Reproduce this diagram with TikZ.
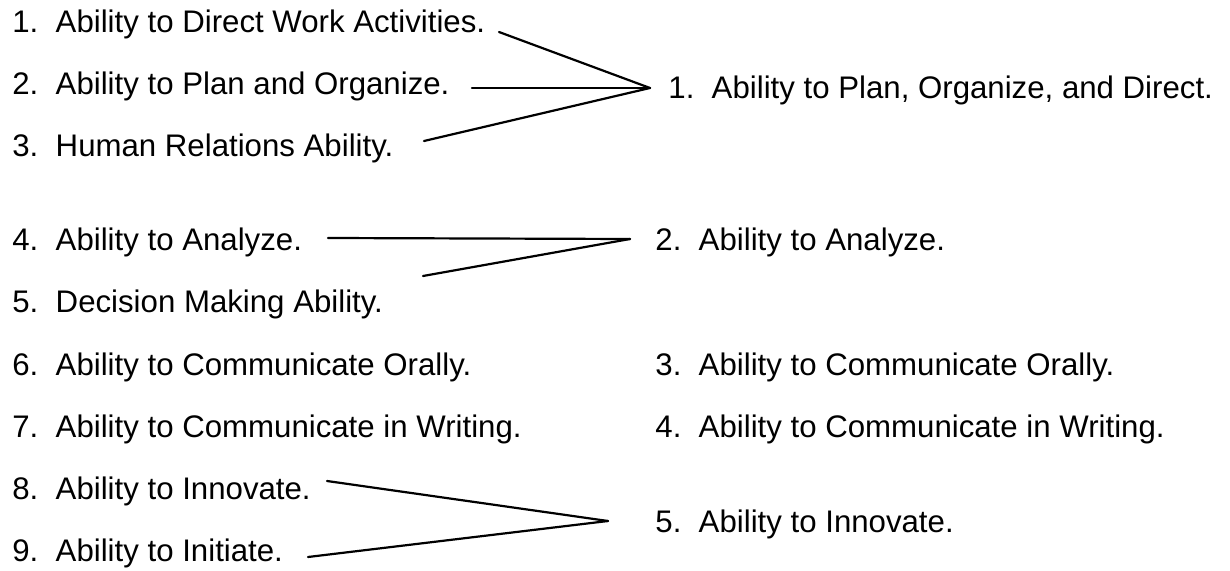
\documentclass[tikz,border=0pt]{standalone}
\usepackage{fontspec}
\setmainfont{Liberation Sans}
\begin{document}
\begin{tikzpicture}[x=0.5pt,y=-0.5pt,
  item/.style={anchor=base west,inner sep=0pt,font=\fontsize{15.6}{18}\selectfont},
  link/.style={line width=1.1pt,line cap=round,line join=miter}]
\useasboundingbox (0,0) rectangle (1230,571);
% left column
\node[item] (l1) at (12,33)  {1.\ \ Ability to Direct Work Activities.};
\node[item] (l2) at (12,95)  {2.\ \ Ability to Plan and Organize.};
\node[item] (l3) at (12,157) {3.\ \ Human Relations Ability.};
\node[item] (l4) at (12,251) {4.\ \ Ability to Analyze.};
\node[item] (l5) at (12,313) {5.\ \ Decision Making Ability.};
\node[item] (l6) at (12,375) {6.\ \ Ability to Communicate Orally.};
\node[item] (l7) at (12,437) {7.\ \ Ability to Communicate in Writing.};
\node[item] (l8) at (12,499) {8.\ \ Ability to Innovate.};
\node[item] (l9) at (12,561) {9.\ \ Ability to Initiate.};
% right column
\node[item] (r1) at (668,99)  {1.\ \ Ability to Plan, Organize, and Direct.};
\node[item] (r2) at (655,251) {2.\ \ Ability to Analyze.};
\node[item] (r3) at (655,375) {3.\ \ Ability to Communicate Orally.};
\node[item] (r4) at (655,437) {4.\ \ Ability to Communicate in Writing.};
\node[item] (r5) at (655,532) {5.\ \ Ability to Innovate.};
% connector ends
\coordinate (s1) at (499,32);
\coordinate (s2) at (472,88);
\coordinate (s3) at (424,141);
\coordinate (a1) at (650,88);
\coordinate (s4) at (328,238);
\coordinate (s5) at (423,276);
\coordinate (a2) at (630,239);
\coordinate (s8) at (327,481);
\coordinate (s9) at (308,557);
\coordinate (a3) at (608,521);
\draw[link] (s1) -- (a1);
\draw[link] (s2) -- (a1);
\draw[link] (s3) -- (a1);
\draw[link] (s4) -- (a2);
\draw[link] (s5) -- (a2);
\draw[link] (s8) -- (a3);
\draw[link] (s9) -- (a3);
\end{tikzpicture}
\end{document}
